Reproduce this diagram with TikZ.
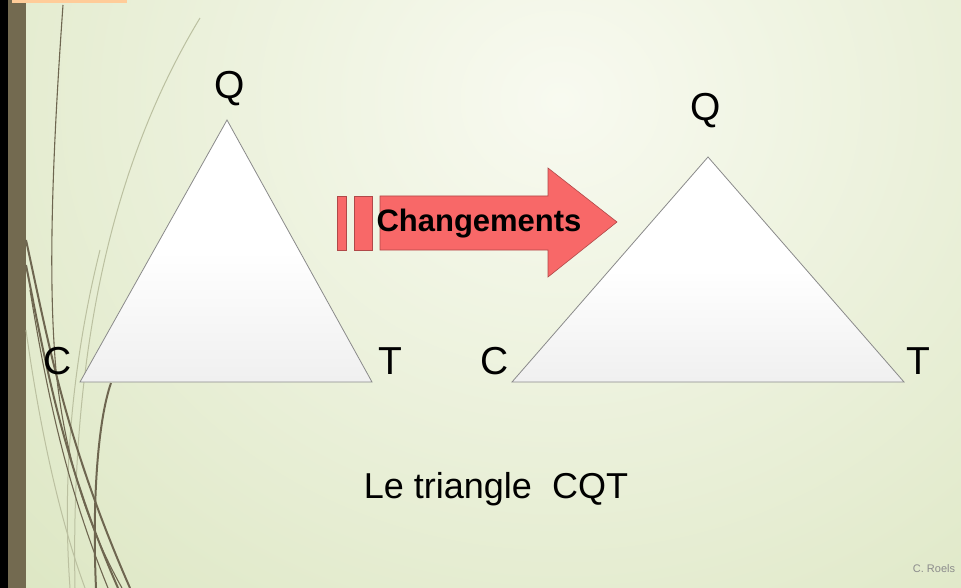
\documentclass[tikz,border=0pt]{standalone}
\usepackage{fontspec}
\setmainfont{Liberation Sans}
\definecolor{bgin}{HTML}{F8FAF0}
\definecolor{bgout}{HTML}{DCE6C2}
\definecolor{strip}{HTML}{736A50}
\definecolor{curvec}{HTML}{6E6650}
\definecolor{arrowfill}{HTML}{F86868}
\definecolor{arrowedge}{HTML}{B04848}
\definecolor{triedge}{HTML}{8A8A8A}
\tikzset{
  lbl/.style={font=\fontsize{39}{42}\selectfont, text=black, inner sep=0pt},
  tri/.style={draw=triedge, line width=0.8pt, top color=white, bottom color=white!94!black, middle color=white},
  redpart/.style={fill=arrowfill, draw=arrowedge, line width=0.6pt},
  swirl/.style={draw=curvec, line width=2pt},
  swirlthin/.style={draw=curvec, line width=1.1pt},
  swirlfaint/.style={draw=curvec!30!bgout, line width=1pt},
}
\begin{document}
\begin{tikzpicture}[x=1pt,y=-1pt]
\useasboundingbox (0,0) rectangle (961,588);
\begin{scope}
\clip (0,0) rectangle (961,588);
\fill[bgout] (0,0) rectangle (961,588);
\shade[inner color=bgin, outer color=bgout] (-240,-620) rectangle (1360,820);
% left strip
\fill[black] (0,0) rectangle (8,588);
\fill[strip] (8,0) rectangle (26,588);
\fill[orange!40!white] (12,0) rectangle (127,3);
% swirl curves
\draw[swirlfaint] (200,18) .. controls (120,150) and (70,330) .. (75,588);
\draw[swirlfaint] (100,250) .. controls (80,330) and (60,450) .. (70,588);
\draw[swirlfaint] (26,330) .. controls (40,430) and (60,520) .. (85,588);
\draw[swirlthin] (63,5) .. controls (52,160) and (48,280) .. (56,370) .. controls (66,470) and (95,540) .. (122,588);
\draw[swirl] (26,240) .. controls (48,340) and (65,440) .. (130,588);
\draw[swirl] (26,265) .. controls (45,360) and (62,460) .. (118,588);
\draw[swirlthin] (30,290) .. controls (48,400) and (68,490) .. (108,588);
\draw[swirl] (111,383) .. controls (98,420) and (92,500) .. (96,588);
\end{scope}
% triangles
\path[tri] (227,120) coordinate (Q1) -- (372,382) coordinate (T1) -- (80,382) coordinate (C1) -- cycle;
\path[tri] (708,157) coordinate (Q2) -- (904,382) coordinate (T2) -- (512,382) coordinate (C2) -- cycle;
\node[lbl] (q1) at (230,89) {Q};
\node[lbl] (c1) at (58,361) {C};
\node[lbl] (t1) at (390,361) {T};
\node[lbl] (q2) at (706,111) {Q};
\node[lbl] (c2) at (495,361) {C};
\node[lbl] (t2) at (918,361) {T};
% arrow
\path[redpart] (337,196) rectangle (346,250);
\path[redpart] (354,196) rectangle (372,250);
\path[redpart] (380,196) -- (548,196) -- (548,168) -- (617,222) -- (548,277) -- (548,250) -- (380,250) -- cycle;
\node[font=\bfseries\fontsize{31}{34}\selectfont, inner sep=0pt] (chg) at (479,224) {Changements};
\node[font=\fontsize{36}{40}\selectfont, inner sep=0pt, anchor=base] (cap) at (496,498) {Le triangle\ \ CQT};
\node[font=\fontsize{11}{13}\selectfont, text=black!45, inner sep=0pt] (auth) at (934,569) {C. Roels};
\end{tikzpicture}
\end{document}
